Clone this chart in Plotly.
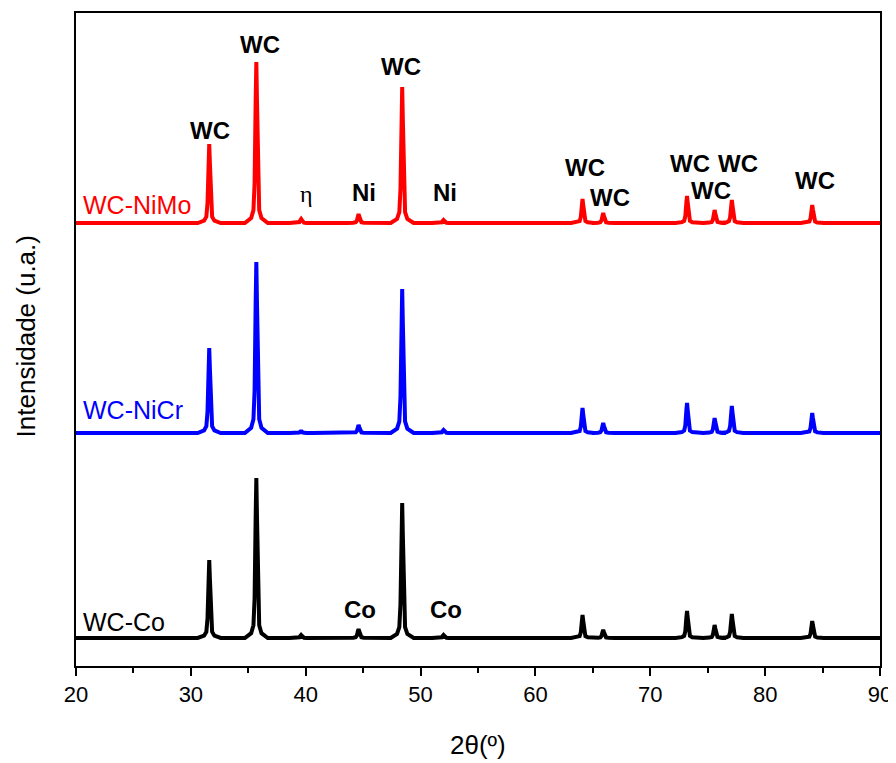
import plotly.graph_objects as go

# Peak positions (2theta, degrees)
peak_pos = [31.6, 35.7, 39.6, 44.6, 48.4, 52.0, 64.1, 65.9, 73.2, 75.6, 77.1, 84.1]

# Peak heights above baseline (arbitrary units) for each sample
co_heights   = [78, 160, 3, 9, 135, 3, 23, 8, 27, 13, 24, 17]
nicr_heights = [85, 171, 2, 8, 144, 3, 25, 10, 30, 15, 27, 20]
nimo_heights = [79, 161, 4, 9, 136, 3, 24, 10, 27, 13, 23, 18]

# Vertical offsets (stacking) of each pattern
co_offset, nicr_offset, nimo_offset = 28, 233, 443

# Labels
series_names = ["WC-Co", "WC-NiCr", "WC-NiMo"]
x_ticks = [20, 30, 40, 50, 60, 70, 80, 90]

# Peak-label annotations: (text, x, y)
peak_labels = [
    ("WC", 31.7, 536), ("WC", 36.0, 622), ("η", 40.1, 472), ("Ni", 45.1, 474),
    ("WC", 48.3, 600), ("Ni", 52.1, 474), ("WC", 64.3, 499), ("WC", 66.5, 469),
    ("WC", 73.5, 503), ("WC", 75.3, 476), ("WC", 77.6, 503), ("WC", 84.3, 486),
    ("Co", 44.7, 57), ("Co", 52.2, 57),
]

# peak profile shape (style): relative x offsets and relative heights
shape_dx = [-1.0, -0.45, -0.25, -0.15, -0.06, 0.0, 0.06, 0.15, 0.25, 0.45, 1.0]
shape_dy = [0.0, 0.03, 0.08, 0.25, 0.75, 1.0, 0.75, 0.25, 0.08, 0.03, 0.0]


def build(heights, offset):
    xs, ys = [20.0], [offset]
    for p, h in zip(peak_pos, heights):
        for dx, dy in zip(shape_dx, shape_dy):
            xs.append(p + dx)
            ys.append(offset + h * dy)
    xs.append(90.0)
    ys.append(offset)
    return xs, ys


fig = go.Figure()
for name, hts, off, col in [
    ("WC-Co", co_heights, co_offset, "black"),
    ("WC-NiCr", nicr_heights, nicr_offset, "#0000ff"),
    ("WC-NiMo", nimo_heights, nimo_offset, "#ff0000"),
]:
    xs, ys = build(hts, off)
    fig.add_trace(go.Scatter(x=xs, y=ys, mode="lines", name=name,
                             line=dict(color=col, width=4), showlegend=False))

for txt, x, y in peak_labels:
    if txt == "η":
        fnt = dict(family="Liberation Serif", size=24, color="black")
        t = txt
    else:
        fnt = dict(family="Liberation Sans", size=24, color="black")
        t = "<b>%s</b>" % txt
    fig.add_annotation(x=x, y=y, text=t, showarrow=False, font=fnt,
                       xanchor="center", yanchor="middle")

for name, y, col in [("WC-NiMo", 461, "#ff0000"), ("WC-NiCr", 256, "#0000ff"), ("WC-Co", 44, "black")]:
    fig.add_annotation(x=20.45, y=y, text=name, showarrow=False, xanchor="left", yanchor="middle",
                       font=dict(family="Liberation Sans", size=25, color=col))

# axis titles
fig.add_annotation(xref="paper", yref="paper", x=-0.062, y=0.505, text="Intensidade (u.a.)",
                   textangle=-90, showarrow=False, xanchor="center", yanchor="middle",
                   font=dict(family="Liberation Sans", size=26, color="black"))
fig.add_annotation(xref="paper", yref="paper", x=0.5, y=-0.121, text="2θ(º)",
                   showarrow=False, xanchor="center", yanchor="middle",
                   font=dict(family="Liberation Sans", size=26, color="black"))

# page has an 8px body margin, so the figure is sized/positioned to compensate
fig.update_layout(
    width=888, height=755,
    margin=dict(l=68, r=16, t=5, b=97),
    plot_bgcolor="white", paper_bgcolor="white",
    font=dict(family="Liberation Sans", color="black"),
)
fig.update_xaxes(
    range=[20, 90], tickvals=x_ticks, ticktext=[str(t) for t in x_ticks],
    ticks="outside", ticklen=8, tickwidth=1.5, tickcolor="black",
    minor=dict(dtick=5, ticks="outside", ticklen=5, tickwidth=1.5, tickcolor="black"),
    showline=True, linewidth=2, linecolor="black", mirror=True, showgrid=False, zeroline=False,
    tickfont=dict(family="Liberation Sans", size=22), automargin=False,
    ticklabeloverflow="allow",
)
fig.update_yaxes(
    range=[0, 653], showticklabels=False, ticks="",
    showline=True, linewidth=2, linecolor="black", mirror=True, showgrid=False, zeroline=False,
    automargin=False,
)

fig.write_html("out.html")
